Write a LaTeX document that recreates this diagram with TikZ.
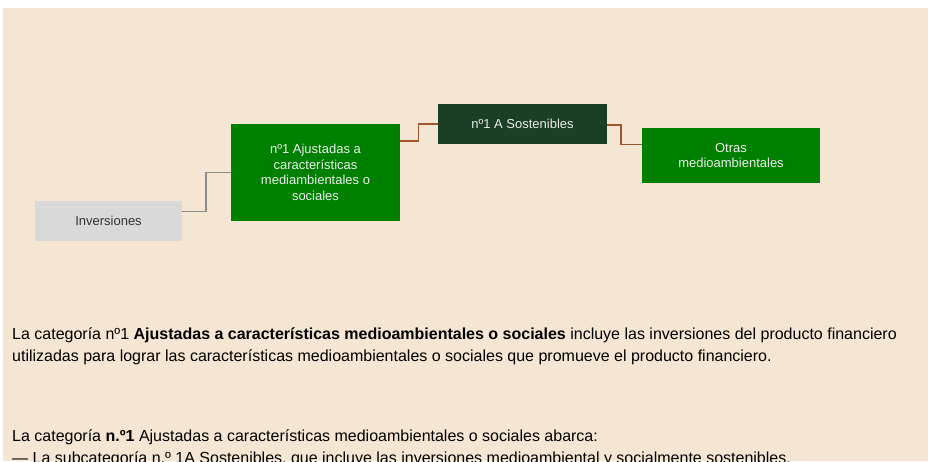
\documentclass[tikz,border=0pt]{standalone}
\usepackage{fontspec}
\setmainfont{Liberation Sans}
\definecolor{bgc}{HTML}{F5E6D3}
\definecolor{greenc}{HTML}{008000}
\definecolor{darkg}{HTML}{1A3F24}
\definecolor{greyc}{HTML}{D9D9D9}
\definecolor{lightt}{HTML}{EDEDED}
\definecolor{linegrey}{HTML}{8C8C8C}
\definecolor{linebrown}{HTML}{A0562A}
\definecolor{darkt}{HTML}{333333}
\begin{document}
\begin{tikzpicture}[x=1pt,y=-1pt,
  boxbase/.style={inner sep=0pt, align=center, font=\fontsize{13}{15.5}\selectfont},
  greenbox/.style={boxbase, fill=greenc, text=lightt},
  darkbox/.style={boxbase, fill=darkg, text=lightt},
  greybox/.style={boxbase, fill=greyc, text=darkt},
  greyline/.style={draw=linegrey, line width=1.5pt},
  brownline/.style={draw=linebrown, line width=1.5pt},
  para/.style={anchor=base west, inner sep=0pt, font=\fontsize{16}{22}\selectfont, text=black}]
\useasboundingbox (0,0) rectangle (928,461);
\fill[bgc] (3,8) rectangle (928,461);

\node[greybox, minimum width=147pt, minimum height=39.7pt] (inv) at (108.5,220.7) {Inversiones};
\node[greenbox, minimum width=169pt, minimum height=96.7pt] (aj) at (315.5,172.4) {nº1 Ajustadas a\\características\\mediambientales o\\sociales};
\node[darkbox, minimum width=169pt, minimum height=39.7pt] (sos) at (522.5,123.9) {nº1 A Sostenibles};
\node[greenbox, minimum width=178pt, minimum height=54.7pt] (ot) at (731,155.4) {Otras\\medioambientales};

\draw[greyline] ([yshift=9pt]inv.east) -- ++(24,0) |- (aj.west);
\draw[brownline] ([yshift=31.4pt]aj.east) -- ++(18.3,0) |- (sos.west);
\draw[brownline] ([yshift=-1pt]sos.east) -- ++(13.7,0) |- ([yshift=11pt]ot.west);

\begin{scope}
\clip (0,0) rectangle (928,461);
\node[para] (p1) at (12,339) {La categoría nº1 \textbf{Ajustadas a características medioambientales o sociales} incluye las inversiones del producto financiero};
\node[para] (p2) at (12,361) {utilizadas para lograr las características medioambientales o sociales que promueve el producto financiero.};
\node[para] (p3) at (12,441) {La categoría \textbf{n.º1} Ajustadas a características medioambientales o sociales abarca:};
\node[para] (p4) at (12,463) {— La subcategoría n.º 1A Sostenibles, que incluye las inversiones medioambiental y socialmente sostenibles.};
\end{scope}
\end{tikzpicture}
\end{document}
